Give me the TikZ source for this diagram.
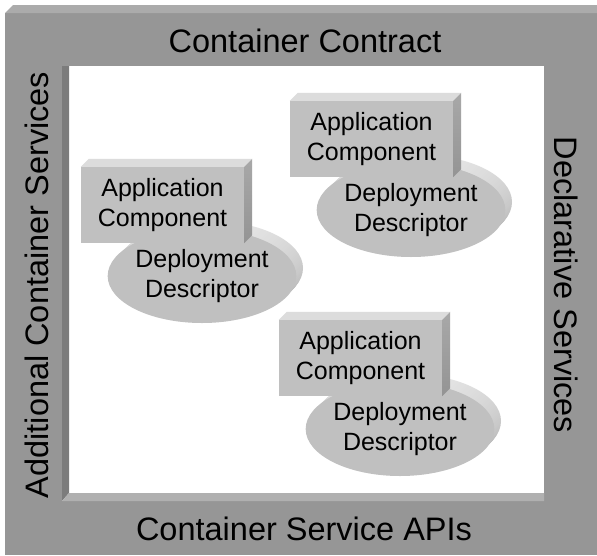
\documentclass[tikz,border=0pt]{standalone}
\usepackage{fontspec}
\setmainfont{Liberation Sans}
\usetikzlibrary{shapes.geometric}

\definecolor{framegray}{HTML}{969696}
\definecolor{frametop}{HTML}{ABABAB}
\definecolor{wallgray}{HTML}{7C7C7C}
\definecolor{floorgray}{HTML}{B0B0B0}
\definecolor{boxfront}{HTML}{C0C0C0}
\definecolor{boxtop}{HTML}{DCDCDC}
\definecolor{boxside}{HTML}{A8A8A8}
\definecolor{ellhi}{HTML}{E6E6E6}
\definecolor{elllo}{HTML}{ABABAB}

\tikzset{
  bigtext/.style={font=\fontsize{32.5}{36}\selectfont, inner sep=0pt},
  smalltext/.style={font=\fontsize{25}{30}\selectfont, align=center, inner sep=0pt},
  appbox/.style={smalltext, fill=boxfront, minimum width=163pt, minimum height=76pt},
  descr/.style={smalltext, ellipse, fill=boxfront, minimum width=186pt, minimum height=94pt},
}

% #1 name, #2 left and #3 top of the box front
\newcommand{\appunit}[3]{
  \foreach \d in {8,7,...,1}
    \shade[top color=ellhi, bottom color=elllo]
      ({#2+121+\d},{#3+109-\d}) ellipse (93 and 47);
  \node[descr] (#1desc) at ({#2+121},{#3+109}) {Deployment\\Descriptor};
  \node[appbox] (#1box) at ({#2+81.5},{#3+38}) {Application\\Component};
  \fill[boxtop] (#1box.north west) -- ++(8,-8) -- ([shift={(8,-8)}]#1box.north east)
    -- (#1box.north east) -- cycle;
  \shade[top color=boxside, bottom color=boxside!88!black] (#1box.north east) -- ++(8,-8)
    -- ([shift={(8,-8)}]#1box.south east) -- (#1box.south east) -- cycle;
}

\begin{document}
\begin{tikzpicture}[x=1pt, y=-1pt]
  \useasboundingbox[fill=white] (0,0) rectangle (597,555);
  % container frame
  \fill[framegray] (5,13) rectangle (597,555);
  \fill[frametop] (5,13) -- (13,5) -- (597,5) -- (597,13) -- cycle;
  \fill[white] (62,66) rectangle (544,501);
  \fill[wallgray] (62,66) -- (69,66) -- (69,493) -- (62,501) -- cycle;
  \fill[floorgray] (62,501) -- (69,493) -- (544,493) -- (544,501) -- cycle;

  \node[bigtext, anchor=base] (contract) at (305,52) {Container Contract};
  \node[bigtext, anchor=base] (apis) at (304,540) {Container Service APIs};
  \node[bigtext, anchor=base, rotate=90] (additional) at (48,285) {Additional Container Services};
  \node[bigtext, anchor=base, rotate=-90] (declarative) at (554,285) {Declarative Services};

  \appunit{a}{81}{167}
  \appunit{b}{290}{101}
  \appunit{c}{279}{320}
\end{tikzpicture}
\end{document}
